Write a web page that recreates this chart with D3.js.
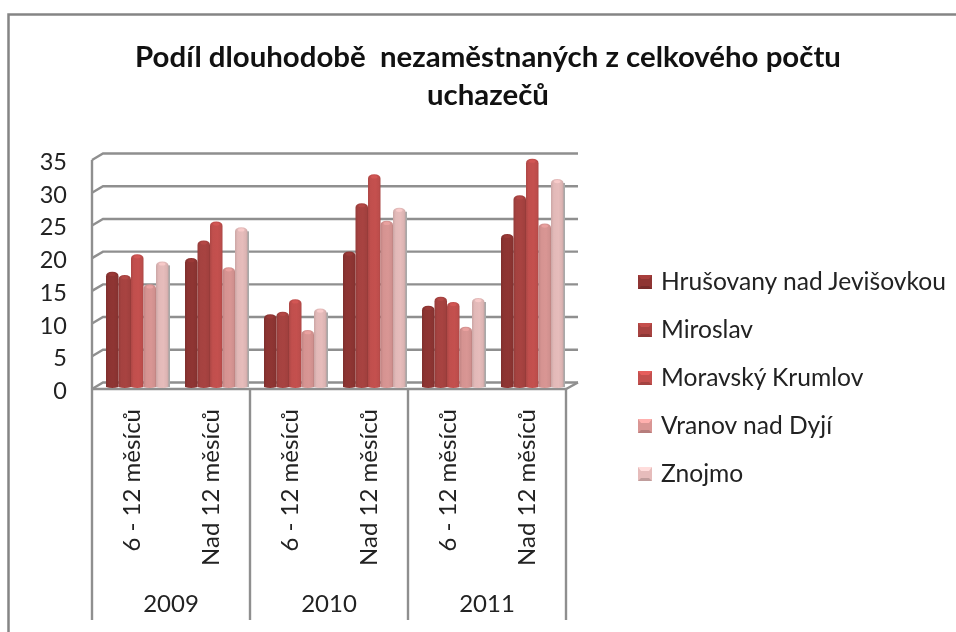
<!DOCTYPE html>
<html>
<head>
<meta charset="utf-8">
<script src="https://cdn.jsdelivr.net/npm/d3@7"></script>
<style>
  html, body { margin: 0; padding: 0; background: #fff; }
  svg { display: block; filter: blur(0.55px); font-family: Lato, "Open Sans", sans-serif; }
</style>
</head>
<body>
<svg id="chart"></svg>
<script>
// Data
const years = ['2009', '2010', '2011'];
const periods = ['6 - 12 měsíců', 'Nad 12 měsíců'];
const seriesNames = ['Hrušovany nad Jevišovkou', 'Miroslav', 'Moravský Krumlov', 'Vranov nad Dyjí', 'Znojmo'];
const hrusovany = [17.6, 19.7, 11.1, 20.7, 12.4, 23.4];
const miroslav = [17.1, 22.4, 11.5, 28.1, 13.8, 29.3];
const moravsky = [20.3, 25.3, 13.4, 32.5, 13.0, 34.9];
const vranov = [15.7, 18.3, 8.7, 25.4, 9.2, 25.0];
const znojmo = [19.2, 24.4, 12.0, 27.4, 13.6, 31.8];
const yTicks = [0, 5, 10, 15, 20, 25, 30, 35];
const seriesColors = ['#8f3533', '#a84341', '#c4504e', '#d99694', '#e6bcbb'];
const titleLines = ['Podíl dlouhodobě  nezaměstnaných z celkového počtu', 'uchazečů'];

const seriesValues = [hrusovany, miroslav, moravsky, vranov, znojmo];

// Dimensions
const width = 956, height = 632;
const plotLeft = 92, plotRight = 566, plotBottom = 389, plotTop = 160;
const depthX = 11, depthY = 6.5;

const svg = d3.select('#chart').attr('width', width).attr('height', height);
const defs = svg.append('defs');

// one key per bar position: year + period
const categories = years.flatMap(y => periods.map(p => y + '|' + p));

const xScale = d3.scaleBand().domain(categories).range([plotLeft, plotRight]);
const barScale = d3.scaleBand().domain(seriesNames).range([14, 76.5]);
const yearScale = d3.scaleBand().domain(years).range([plotLeft, plotRight]);
const yScale = d3.scaleLinear().domain([0, 35]).range([plotBottom, plotTop]);

// Outer frame, no right or bottom edge in the original
svg.append('path')
    .attr('d', `M8.5,${height}V14.5H${width}`)
    .attr('fill', 'none')
    .attr('stroke', '#858585')
    .attr('stroke-width', 2.5);

// Title
svg.append('g').selectAll('text')
    .data(titleLines)
    .enter().append('text')
    .attr('x', 488)
    .attr('y', (d, i) => 67 + i * 38)
    .attr('text-anchor', 'middle')
    .attr('font-weight', 700)
    .attr('font-size', 29.4)
    .attr('fill', '#111')
    .style('white-space', 'pre')
    .text(d => d);

// Gridlines on the back wall
const gridColor = '#8f8f8f';
svg.append('g').selectAll('path')
    .data(yTicks)
    .enter().append('path')
    .attr('fill', 'none')
    .attr('stroke', gridColor)
    .attr('stroke-width', 2.4)
    .attr('d', d => `M${plotLeft},${yScale(d)}L${plotLeft + depthX},${yScale(d) - depthY}H${plotRight + depthX + 1}`);

// Floor front edge and right side
svg.append('path')
    .attr('fill', 'none')
    .attr('stroke', gridColor)
    .attr('stroke-width', 2.4)
    .attr('d', `M${plotLeft},${plotBottom}H${plotRight}L${plotRight + depthX + 1},${plotBottom - depthY}`);

// Gradients for the cylinders
function shade(color, k) {
    return k > 0 ? d3.color(color).brighter(k).formatHex() : d3.color(color).darker(-k).formatHex();
}
seriesColors.forEach((c, i) => {
    let g = defs.append('linearGradient').attr('id', 'bar' + i);
    g.append('stop').attr('offset', '0%').attr('stop-color', shade(c, -0.35));
    g.append('stop').attr('offset', '22%').attr('stop-color', shade(c, -0.05));
    g.append('stop').attr('offset', '60%').attr('stop-color', c);
    g.append('stop').attr('offset', '88%').attr('stop-color', shade(c, -0.12));
    g.append('stop').attr('offset', '100%').attr('stop-color', shade(c, -0.4));
});

// Bars
const barsGroup = svg.append('g');
const bw = barScale.bandwidth();
const barBase = yScale(0) - 2;

categories.forEach((cat, ci) => {
    seriesNames.forEach((name, si) => {
        let x0 = xScale(cat) + barScale(name);
        let top = yScale(seriesValues[si][ci]) - 2;
        let r = bw / 2;
        // soft shadow on the wall
        if (si === seriesNames.length - 1) {
            barsGroup.append('rect')
                .attr('x', x0 + bw - 1)
                .attr('y', top + 4)
                .attr('width', 2.5)
                .attr('height', barBase - top - 4)
                .attr('fill', '#a9a9a9');
        }
        barsGroup.append('path')
            .attr('fill', `url(#bar${si})`)
            .attr('d', `M${x0},${barBase}V${top + 4.5}Q${x0},${top} ${x0 + r},${top}Q${x0 + bw},${top} ${x0 + bw},${top + 4.5}V${barBase}Q${x0 + r},${barBase + 2} ${x0},${barBase}Z`);
        // small lit cap
        barsGroup.append('ellipse')
            .attr('cx', x0 + r)
            .attr('cy', top + 2.6)
            .attr('rx', r - 3)
            .attr('ry', 1.6)
            .attr('fill', shade(seriesColors[si], 0.2));
    });
});

// Y axis
const yAxis = d3.axisLeft(yScale).tickValues(yTicks).tickSize(0).tickPadding(25);
const yG = svg.append('g')
    .attr('transform', `translate(${plotLeft},2)`)
    .call(yAxis);
yG.select('.domain').remove();
yG.selectAll('text')
    .attr('font-family', 'Lato, sans-serif')
    .attr('font-size', 23.5)
    .attr('fill', '#222');

// Left edge of the front plane and group separators
svg.append('g').selectAll('line')
    .data(yearScale.domain().concat(['end']))
    .enter().append('line')
    .attr('x1', d => d === 'end' ? plotRight : yearScale(d))
    .attr('x2', d => d === 'end' ? plotRight : yearScale(d))
    .attr('y1', d => d === '2009' ? yScale(35) : plotBottom)
    .attr('y2', 620)
    .attr('stroke', gridColor)
    .attr('stroke-width', 2.4);

// Period labels, rotated
svg.append('g').selectAll('text')
    .data(categories)
    .enter().append('text')
    .attr('transform', d => `translate(${xScale(d) + xScale.bandwidth() / 2 + 8},409) rotate(-90)`)
    .attr('text-anchor', 'end')
    .attr('font-size', 24)
    .attr('fill', '#222')
    .text(d => d.split('|')[1]);

// Year labels
svg.append('g').selectAll('text')
    .data(years)
    .enter().append('text')
    .attr('x', d => yearScale(d) + yearScale.bandwidth() / 2)
    .attr('y', 612)
    .attr('text-anchor', 'middle')
    .attr('font-size', 24)
    .attr('fill', '#222')
    .text(d => d);

// Legend
const legend = svg.append('g').selectAll('g')
    .data(seriesNames)
    .enter().append('g')
    .attr('transform', (d, i) => `translate(638,${282 + i * 48})`);

const sw = 14;
legend.append('rect')
    .attr('y', -sw / 2)
    .attr('width', sw)
    .attr('height', sw)
    .attr('fill', (d, i) => seriesColors[i]);
legend.append('path')
    .attr('d', `M0,${-sw / 2}H${sw}L${sw - 3},${-sw / 2 + 4}H3Z`)
    .attr('fill', (d, i) => shade(seriesColors[i], 0.45));
legend.append('path')
    .attr('d', `M0,${sw / 2}H${sw}L${sw - 3},${sw / 2 - 3}H3Z`)
    .attr('fill', (d, i) => shade(seriesColors[i], -0.5));
legend.append('text')
    .attr('x', 23)
    .attr('y', 8)
    .attr('font-size', 24.6)
    .attr('fill', '#222')
    .text(d => d);
</script>
</body>
</html>
